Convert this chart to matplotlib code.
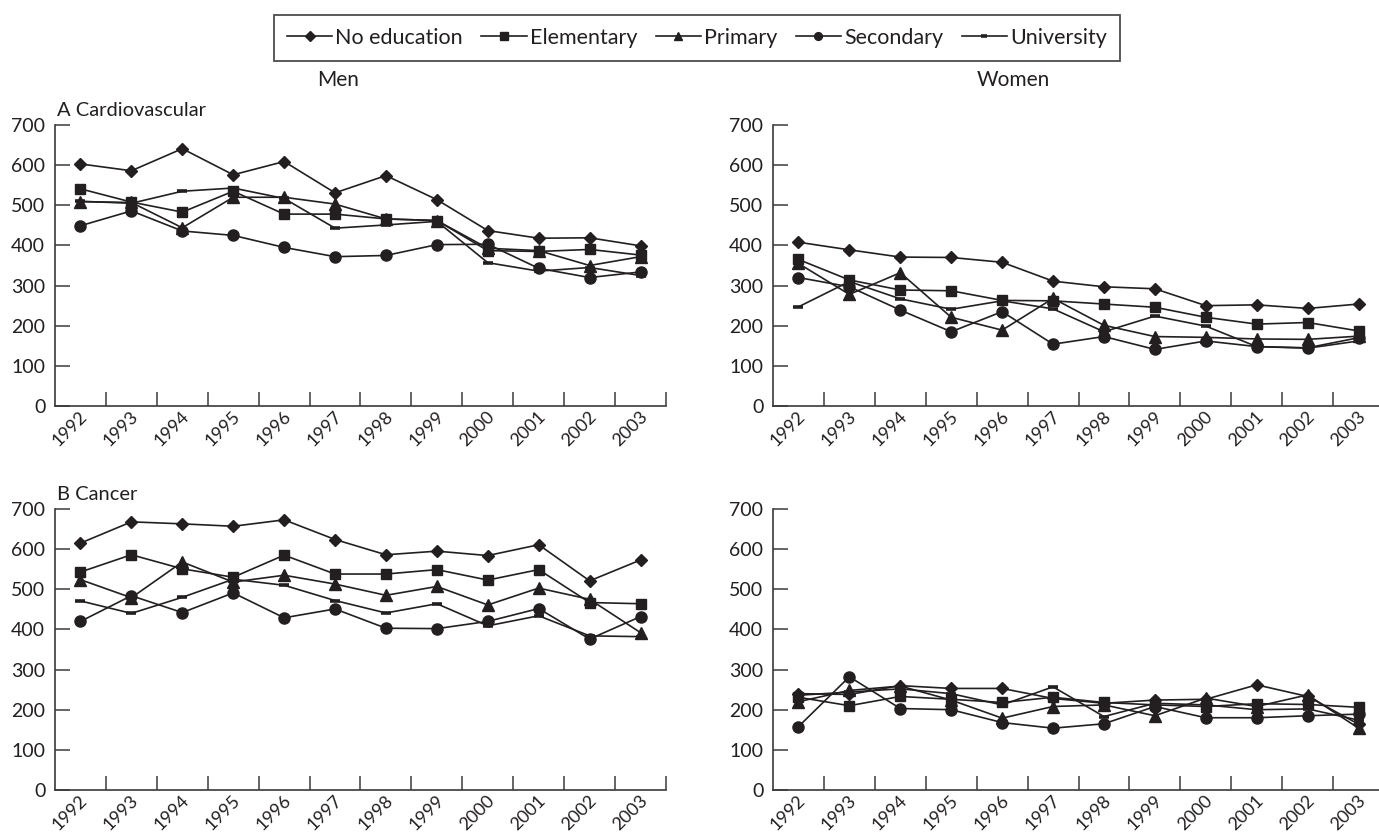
import matplotlib
matplotlib.use("Agg")
import matplotlib.pyplot as plt
from matplotlib.lines import Line2D

plt.rcParams['font.family'] = ['Lato', 'DejaVu Sans']

years = ['1992', '1993', '1994', '1995', '1996', '1997', '1998', '1999',
         '2000', '2001', '2002', '2003']
series_names = ['No education', 'Elementary', 'Primary', 'Secondary', 'University']
yticks = [0, 100, 200, 300, 400, 500, 600, 700]

# A Cardiovascular - Men
cvd_men_none = [603, 586, 641, 576, 609, 531, 574, 514, 437, 418, 419, 399]
cvd_men_elem = [541, 508, 483, 535, 478, 478, 466, 462, 387, 385, 390, 376]
cvd_men_prim = [509, 507, 444, 520, 520, 503, 466, 462, 393, 387, 350, 372]
cvd_men_sec = [449, 486, 436, 425, 395, 372, 375, 402, 403, 343, 320, 334]
cvd_men_uni = [510, 505, 535, 543, 517, 443, 451, 460, 357, 336, 345, 325]

# A Cardiovascular - Women
cvd_wom_none = [408, 389, 371, 370, 358, 311, 297, 292, 250, 252, 243, 254]
cvd_wom_elem = [365, 314, 289, 287, 263, 262, 254, 246, 221, 204, 208, 187]
cvd_wom_prim = [355, 278, 332, 221, 189, 268, 201, 173, 171, 167, 166, 174]
cvd_wom_sec = [320, 297, 239, 185, 235, 154, 173, 141, 162, 148, 145, 170]
cvd_wom_uni = [247, 310, 267, 241, 262, 242, 185, 224, 199, 148, 144, 162]

# B Cancer - Men
can_men_none = [615, 668, 663, 657, 673, 624, 586, 595, 584, 611, 521, 573]
can_men_elem = [543, 586, 551, 530, 585, 538, 538, 549, 523, 549, 467, 464]
can_men_prim = [524, 479, 568, 518, 535, 513, 485, 507, 461, 503, 475, 392]
can_men_sec = [420, 484, 442, 491, 429, 451, 403, 402, 420, 452, 376, 432]
can_men_uni = [471, 440, 480, 525, 510, 472, 441, 464, 409, 434, 384, 382]

# B Cancer - Women
can_wom_none = [240, 238, 260, 253, 253, 228, 216, 224, 226, 262, 233, 164]
can_wom_elem = [231, 210, 233, 226, 218, 231, 218, 212, 208, 215, 213, 206]
can_wom_prim = [220, 248, 259, 224, 179, 208, 212, 185, 229, 208, 237, 154]
can_wom_sec = [158, 282, 203, 200, 168, 154, 165, 208, 180, 180, 185, 189]
can_wom_uni = [236, 244, 252, 240, 212, 257, 183, 216, 212, 200, 202, 174]

panels = [
    ('A Cardiovascular', [cvd_men_none, cvd_men_elem, cvd_men_prim, cvd_men_sec, cvd_men_uni]),
    (None, [cvd_wom_none, cvd_wom_elem, cvd_wom_prim, cvd_wom_sec, cvd_wom_uni]),
    ('B Cancer', [can_men_none, can_men_elem, can_men_prim, can_men_sec, can_men_uni]),
    (None, [can_wom_none, can_wom_elem, can_wom_prim, can_wom_sec, can_wom_uni]),
]

INK = '#231f20'
AX = '#3a3a3a'
styles = [
    dict(marker='D', ms=6.6),
    dict(marker='s', ms=7.8),
    dict(marker='^', ms=8.5),
    dict(marker='o', ms=8.0),
    dict(marker='_', ms=7.0, mew=2.6),
]

W, H = 1379, 835
fig = plt.figure(figsize=(W / 100, H / 100), dpi=100)

left_px = [55, 773]
bottom_px = [406, 790]
top_px = [125, 509]
width_px = 611

positions = []
for r in range(2):
    for c in range(2):
        positions.append([left_px[c] / W, 1 - bottom_px[r] / H,
                          width_px / W, (bottom_px[r] - top_px[r]) / H])

x = list(range(len(years)))
for (title, data), pos in zip(panels, positions):
    ax = fig.add_axes(pos)
    for vals, st in zip(data, styles):
        kw = dict(color=INK, lw=1.2, mfc=INK, mec=INK)
        kw.update(st)
        ax.plot(x, vals, **kw)
    ax.set_xlim(-0.5, len(years) - 0.5)
    ax.set_ylim(0, 700)
    ax.set_yticks(yticks)
    ax.set_yticklabels([str(v) for v in yticks], fontsize=14, color=INK)
    ax.set_xticks(x)
    ax.set_xticklabels(years, fontsize=13, rotation=45, ha='right',
                       va='top', color=INK)
    ax.set_xticks([i + 0.5 for i in x], minor=True)
    ax.tick_params(axis='x', which='major', length=0, pad=1.5)
    ax.tick_params(axis='x', which='minor', direction='in', length=10,
                   width=1.1, color=AX)
    ax.tick_params(axis='y', direction='in', length=10.5, width=1.1,
                   color=AX, pad=7)
    for lab in ax.get_xticklabels():
        lab.set_transform(lab.get_transform() +
                          matplotlib.transforms.ScaledTranslation(0.1, 0, fig.dpi_scale_trans))
    for s in ['top', 'right']:
        ax.spines[s].set_visible(False)
    for s in ['left', 'bottom']:
        ax.spines[s].set_color(AX)
        ax.spines[s].set_linewidth(1.2)
    ax.patch.set_visible(False)
    if title:
        ax.annotate(title, xy=(0, 1), xycoords='axes fraction',
                    xytext=(1.5, 6.5), textcoords='offset points',
                    ha='left', va='baseline', fontsize=14.5, color=INK,
                    annotation_clip=False)

fig.text(317 / W, 1 - 80 / H, 'Men', ha='left', va='center', fontsize=15, color=INK)
fig.text(977 / W, 1 - 80 / H, 'Women', ha='left', va='center', fontsize=15, color=INK)

handles = []
for name, st in zip(series_names, styles):
    kw = dict(color=INK, lw=1.2, mfc=INK, mec=INK)
    kw.update(st)
    handles.append(Line2D([], [], **kw))
leg = fig.legend(handles, series_names, loc='center',
                 bbox_to_anchor=((276 + 1118) / 2 / W, 1 - 38 / H),
                 ncol=5, fontsize=15.5, frameon=True, fancybox=False,
                 edgecolor=INK, handlelength=2.1, handletextpad=0.15,
                 columnspacing=0.85, borderpad=0.6, markerscale=0.7,
                 labelcolor=INK)
leg.get_frame().set_linewidth(1.3)

fig.savefig('out.png', dpi=100)
